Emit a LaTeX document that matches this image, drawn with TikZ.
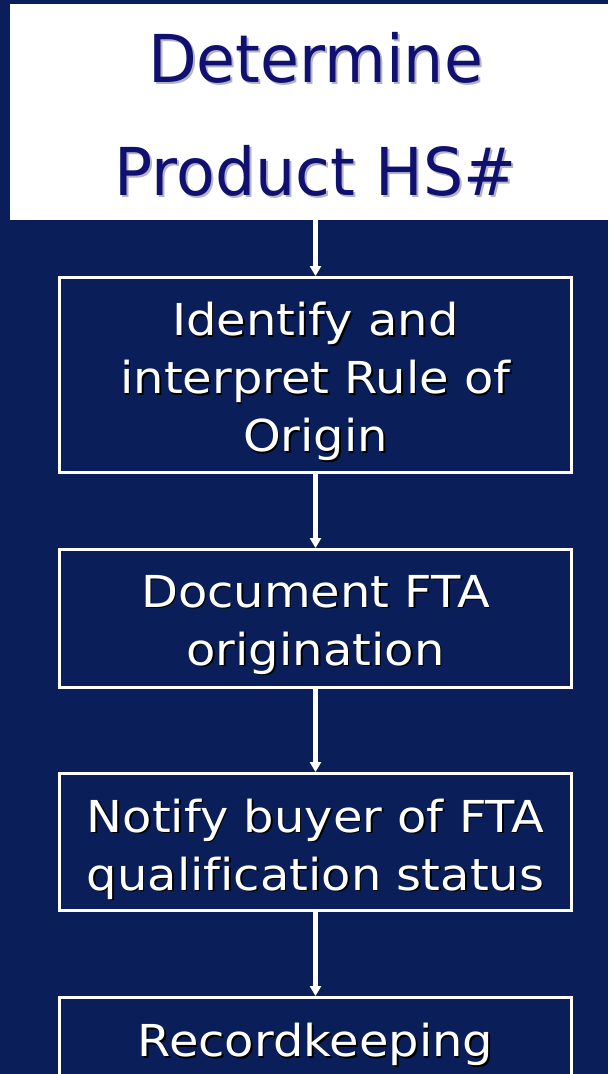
\documentclass[tikz,border=0pt]{standalone}
\usepackage{fontspec}
\setmainfont{DejaVu Sans}
\newfontfamily\stepfont[FakeStretch=1.09, Ligatures=NoCommon]{DejaVu Sans}
\newfontfamily\headfont[FakeStretch=0.96, Ligatures=NoCommon]{DejaVu Sans}
\usetikzlibrary{arrows.meta}
\definecolor{slidebg}{RGB}{10,30,90}
\definecolor{headink}{RGB}{16,16,112}
\definecolor{headshade}{RGB}{178,180,192}

% text with a drop shadow, placed by the baseline of its last line: name, x, y, text
\newcommand\steplabel[4]{%
  \node[steptext, text=black, xshift=1.5pt, yshift=-1.5pt] (#1s) at (#2,#3) {#4};
  \node[steptext] (#1) at (#2,#3) {#4};}

\tikzset{
  headbox/.style={fill=white, draw=none, inner sep=0pt, outer sep=0pt,
    minimum width=598pt, minimum height=216pt},
  headtext/.style={anchor=base, align=center, inner sep=0pt, text=headink,
    font=\headfont\fontsize{66}{113}\selectfont},
  stepbox/.style={draw=white, line width=3pt, inner sep=0pt,
    minimum width=512pt},
  steptext/.style={anchor=base, align=center, inner sep=0pt, text=white,
    font=\stepfont\fontsize{44}{58}\selectfont},
  flow/.style={draw=white, line width=4.5pt,
    -{Triangle[width=11pt, length=10pt]}}
}

\begin{document}
\begin{tikzpicture}[x=1pt, y=-1pt]
  \fill[slidebg] (0,0) rectangle (608,1074);
  \useasboundingbox (0,0) rectangle (608,1074);
  \clip (0,0) rectangle (608,1074);

  % heading panel
  \node[headbox] (head) at (309,112) {};
  \node[headtext, text=headshade, xshift=2pt, yshift=-2pt] (heads) at (315.5,195) {Determine\\Product HS\#};
  \node[headtext] (headtxt) at (315.5,195) {Determine\\Product HS\#};

  % process steps
  \node[stepbox, minimum height=195pt] (s1) at (315.5,375) {};
  \node[stepbox, minimum height=138pt] (s2) at (315.5,618.5) {};
  \node[stepbox, minimum height=137pt] (s3) at (315.5,842) {};
  \node[stepbox, minimum height=137pt] (s4) at (315.5,1066) {};

  \steplabel{s1t}{315.5}{451.7}{Identify and\\interpret Rule of\\Origin}
  \steplabel{s2t}{315.5}{665}{Document FTA\\origination}
  \steplabel{s3t}{315.5}{890}{Notify buyer of FTA\\qualification status}
  \steplabel{s4t}{315.5}{1056.7}{Recordkeeping}

  % connectors
  \draw[flow] (head.south -| s1.north) -- (s1.north);
  \draw[flow] (s1.south) -- (s2.north);
  \draw[flow] (s2.south) -- (s3.north);
  \draw[flow] (s3.south) -- (s4.north);
\end{tikzpicture}
\end{document}
